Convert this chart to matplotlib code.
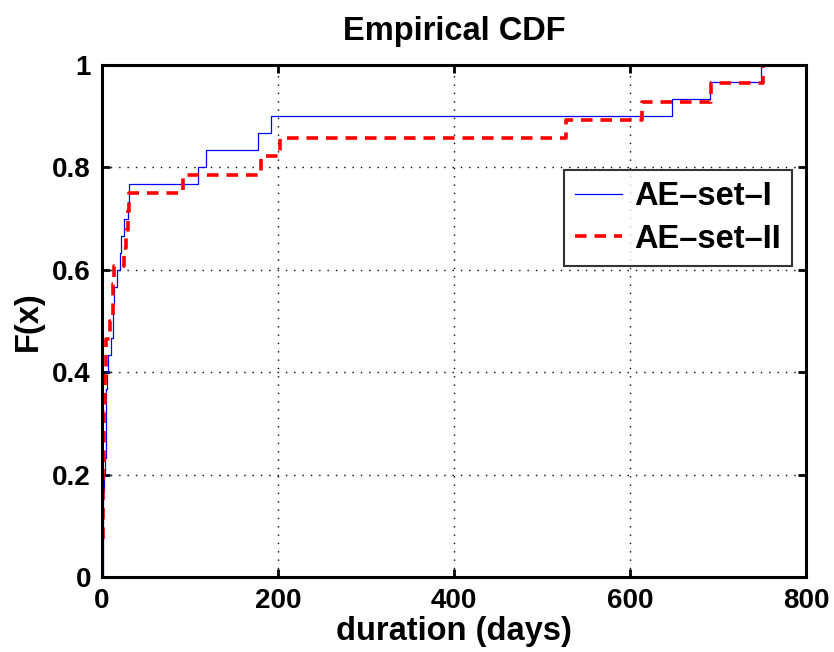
import numpy as np
import matplotlib
matplotlib.use("Agg")
import matplotlib.pyplot as plt

# durations (days)
set1_days = [1, 1, 1, 1, 1, 2, 3, 4, 5, 5, 5, 6, 7, 10, 12, 13, 14, 17, 20, 22,
             25, 29, 31, 109, 118, 177, 192, 648, 691, 749]
set2_days = [0, 0, 1, 1, 1, 1, 2, 2, 2, 3, 3, 4, 5, 9, 12, 13, 14, 25, 27, 29,
             31, 92, 181, 202, 527, 614, 692, 751]
labels = ["AE\u2013set\u2013I", "AE\u2013set\u2013II"]


def ecdf(values):
    x = np.sort(np.asarray(values, dtype=float))
    f = np.arange(1, len(x) + 1) / len(x)
    # start at (min, 0) and run to the right edge like cdfplot
    x = np.concatenate([[x[0]], x, [800]])
    f = np.concatenate([[0], f, [1]])
    return x, f


plt.rcParams["font.family"] = ["Liberation Sans", "DejaVu Sans"]
plt.rcParams["font.weight"] = "bold"

fig = plt.figure(figsize=(8.34, 6.52), dpi=100)
ax = fig.add_axes([0.1223, 0.115, 0.8441, 0.7853])

x1, f1 = ecdf(set1_days)
x2, f2 = ecdf(set2_days)
ax.step(x1, f1, where="post", color="#0000ff", linewidth=0.9, label=labels[0])
ax.step(x2, f2, where="post", color="#ff0000", linewidth=2.6,
        linestyle=(0, (3.2, 2.2)), label=labels[1])

ax.set_xlim(0, 800)
ax.set_ylim(0, 1)
ax.set_xticks([0, 200, 400, 600, 800])
ax.set_yticks([0, 0.2, 0.4, 0.6, 0.8, 1])
ax.set_yticklabels(["0", "0.2", "0.4", "0.6", "0.8", "1"])
ax.tick_params(direction="in", length=6, width=2, labelsize=20, pad=8,
               top=True, right=True)
for lab in ax.get_xticklabels() + ax.get_yticklabels():
    lab.set_fontweight("bold")
for s in ax.spines.values():
    s.set_linewidth(2.2)
ax.grid(True, color="black", linestyle=(0, (1, 5)), linewidth=1.0)

ax.set_title("Empirical CDF", fontsize=23.5, fontweight="bold", pad=18)
ax.set_xlabel("duration (days)", fontsize=23.5, fontweight="bold", labelpad=1)
ax.set_ylabel("F(x)", fontsize=23.5, fontweight="bold", labelpad=6)

leg = ax.legend(loc="upper right", bbox_to_anchor=(0.98, 0.795), fontsize=23.5,
                frameon=True, fancybox=False, edgecolor="black",
                handlelength=1.45, borderpad=0.35, labelspacing=0.35,
                handletextpad=0.35, borderaxespad=0)
leg.get_frame().set_linewidth(1.5)
for t in leg.get_texts():
    t.set_fontweight("bold")

fig.savefig("out.png", dpi=100)
